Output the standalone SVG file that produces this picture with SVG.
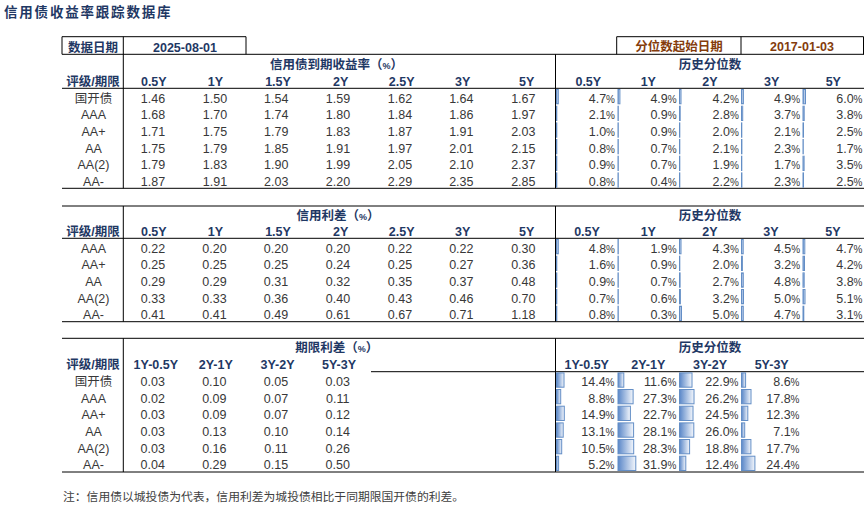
<svg xmlns="http://www.w3.org/2000/svg" width="864" height="506" viewBox="0 0 864 506">
<style>
text{font-family:"Liberation Sans","Noto Sans CJK SC",sans-serif;font-size:12.5px}
.ttl{font-weight:bold;fill:#1F3864;font-size:13.5px;letter-spacing:1.8px}
.h{font-weight:bold;fill:#1F3864;text-anchor:middle}
.v{fill:#383838;text-anchor:middle}
.p{fill:#383838;text-anchor:end}
.p tspan{font-size:10px}
.br{fill:#843C0C;text-anchor:middle;font-weight:bold}
.sm{font-size:9px}
.ln{stroke:#000;stroke-width:1;fill:none}
.bar{fill:url(#g);stroke:#638EC6;stroke-width:1}
.note{fill:#404040;font-size:11.8px}
</style>
<defs>
<linearGradient id="g" x1="0" y1="0" x2="1" y2="0">
<stop offset="0" stop-color="#5A87C8"/>
<stop offset="1" stop-color="#F4F7FC"/>
</linearGradient>
</defs>
<rect width="864" height="506" fill="#fff"/>
<text id="title" class="ttl" x="4" y="17">信用债收益率跟踪数据库</text>

<g id="connectors">
<path class="ln" d="M62 36.7H246M62 36.7V54.3M246 36.7V54.3M616.7 36.7H863.5M616.7 36.7V54.3M741 36.7V54.3M863.5 36.7V54.3"/>
<path class="ln" d="M62 54.3H864M62 88.3H864M62 188.3H864M123.3 36.7V188.3M555.5 54.3V188.3"/>
<path class="ln" d="M62 206H864M62 238.3H864M62 321.7H864M123.3 206V321.7M555.5 206V321.7"/>
<path class="ln" d="M62 338.3H864M371 371.7H864M62 472H864M123.3 338.3V472M555.5 338.3V472"/>
</g>

<g id="date-box">
<text class="h" x="93" y="51.8">数据日期</text>
<text class="h" x="185" y="51.8">2025-08-01</text>
<text class="br" x="679" y="51.2">分位数起始日期</text>
<text class="br" x="802" y="51.2">2017-01-03</text>
</g>

<g id="table1">
<text class="h" x="336.5" y="68.5">信用债到期收益率（<tspan class="sm">%</tspan>）</text>
<text class="h" x="710" y="68.5">历史分位数</text>
<text class="h" x="93" y="86">评级/期限</text>
<text class="h" x="153.8" y="86">0.5Y</text>
<text class="h" x="215.5" y="86">1Y</text>
<text class="h" x="278" y="86">1.5Y</text>
<text class="h" x="340.7" y="86">2Y</text>
<text class="h" x="401.7" y="86">2.5Y</text>
<text class="h" x="462.7" y="86">3Y</text>
<text class="h" x="526.7" y="86">5Y</text>
<text class="h" x="588.3" y="86">0.5Y</text>
<text class="h" x="648.3" y="86">1Y</text>
<text class="h" x="710" y="86">2Y</text>
<text class="h" x="771.7" y="86">3Y</text>
<text class="h" x="833.3" y="86">5Y</text>
<g class="v">
<text x="93.5" y="102.5">国开债</text><text x="93.5" y="119.2">AAA</text><text x="93.5" y="135.9">AA+</text><text x="93.5" y="152.5">AA</text><text x="93.5" y="169.2">AA(2)</text><text x="93.5" y="185.9">AA-</text>
<text x="153" y="102.5">1.46</text><text x="215" y="102.5">1.50</text><text x="276.2" y="102.5">1.54</text><text x="338" y="102.5">1.59</text><text x="400" y="102.5">1.62</text><text x="461.3" y="102.5">1.64</text><text x="523.3" y="102.5">1.67</text>
<text x="153" y="119.2">1.68</text><text x="215" y="119.2">1.70</text><text x="276.2" y="119.2">1.74</text><text x="338" y="119.2">1.80</text><text x="400" y="119.2">1.84</text><text x="461.3" y="119.2">1.86</text><text x="523.3" y="119.2">1.97</text>
<text x="153" y="135.9">1.71</text><text x="215" y="135.9">1.75</text><text x="276.2" y="135.9">1.79</text><text x="338" y="135.9">1.83</text><text x="400" y="135.9">1.87</text><text x="461.3" y="135.9">1.91</text><text x="523.3" y="135.9">2.03</text>
<text x="153" y="152.5">1.75</text><text x="215" y="152.5">1.79</text><text x="276.2" y="152.5">1.85</text><text x="338" y="152.5">1.91</text><text x="400" y="152.5">1.97</text><text x="461.3" y="152.5">2.01</text><text x="523.3" y="152.5">2.15</text>
<text x="153" y="169.2">1.79</text><text x="215" y="169.2">1.83</text><text x="276.2" y="169.2">1.90</text><text x="338" y="169.2">1.99</text><text x="400" y="169.2">2.05</text><text x="461.3" y="169.2">2.10</text><text x="523.3" y="169.2">2.37</text>
<text x="153" y="185.9">1.87</text><text x="215" y="185.9">1.91</text><text x="276.2" y="185.9">2.03</text><text x="338" y="185.9">2.20</text><text x="400" y="185.9">2.29</text><text x="461.3" y="185.9">2.35</text><text x="523.3" y="185.9">2.85</text>
</g>
<g id="t1bars">
<rect class="bar" x="556.5" y="89.5" width="1.8" height="14.3"/><rect class="bar" x="618" y="89.5" width="1.9" height="14.3"/><rect class="bar" x="679.5" y="89.5" width="1.5" height="14.3"/><rect class="bar" x="741.5" y="89.5" width="1.9" height="14.3"/><rect class="bar" x="803" y="89.5" width="2.5" height="14.3"/>
<rect class="bar" x="556.5" y="106.2" width="0.3" height="14.3"/><rect class="bar" x="618" y="106.2" width="0.3" height="14.3"/><rect class="bar" x="679.5" y="106.2" width="0.7" height="14.3"/><rect class="bar" x="741.5" y="106.2" width="1.2" height="14.3"/><rect class="bar" x="803" y="106.2" width="1.2" height="14.3"/>
<rect class="bar" x="556.5" y="122.9" width="0.3" height="14.3"/><rect class="bar" x="618" y="122.9" width="0.3" height="14.3"/><rect class="bar" x="679.5" y="122.9" width="0.3" height="14.3"/><rect class="bar" x="741.5" y="122.9" width="0.3" height="14.3"/><rect class="bar" x="803" y="122.9" width="0.5" height="14.3"/>
<rect class="bar" x="556.5" y="139.5" width="0.3" height="14.3"/><rect class="bar" x="618" y="139.5" width="0.3" height="14.3"/><rect class="bar" x="679.5" y="139.5" width="0.3" height="14.3"/><rect class="bar" x="741.5" y="139.5" width="0.4" height="14.3"/><rect class="bar" x="803" y="139.5" width="0.3" height="14.3"/>
<rect class="bar" x="556.5" y="156.2" width="0.3" height="14.3"/><rect class="bar" x="618" y="156.2" width="0.3" height="14.3"/><rect class="bar" x="679.5" y="156.2" width="0.3" height="14.3"/><rect class="bar" x="741.5" y="156.2" width="0.3" height="14.3"/><rect class="bar" x="803" y="156.2" width="1.1" height="14.3"/>
<rect class="bar" x="556.5" y="172.9" width="0.3" height="14.3"/><rect class="bar" x="618" y="172.9" width="0.3" height="14.3"/><rect class="bar" x="679.5" y="172.9" width="0.3" height="14.3"/><rect class="bar" x="741.5" y="172.9" width="0.4" height="14.3"/><rect class="bar" x="803" y="172.9" width="0.5" height="14.3"/>
</g>
<g>
<text class="p" x="615" y="102.5">4.7<tspan>%</tspan></text><text class="p" x="676.7" y="102.5">4.9<tspan>%</tspan></text><text class="p" x="738.8" y="102.5">4.2<tspan>%</tspan></text><text class="p" x="800.2" y="102.5">4.9<tspan>%</tspan></text><text class="p" x="862.5" y="102.5">6.0<tspan>%</tspan></text>
<text class="p" x="615" y="119.2">2.1<tspan>%</tspan></text><text class="p" x="676.7" y="119.2">0.9<tspan>%</tspan></text><text class="p" x="738.8" y="119.2">2.8<tspan>%</tspan></text><text class="p" x="800.2" y="119.2">3.7<tspan>%</tspan></text><text class="p" x="862.5" y="119.2">3.8<tspan>%</tspan></text>
<text class="p" x="615" y="135.9">1.0<tspan>%</tspan></text><text class="p" x="676.7" y="135.9">0.9<tspan>%</tspan></text><text class="p" x="738.8" y="135.9">2.0<tspan>%</tspan></text><text class="p" x="800.2" y="135.9">2.1<tspan>%</tspan></text><text class="p" x="862.5" y="135.9">2.5<tspan>%</tspan></text>
<text class="p" x="615" y="152.5">0.8<tspan>%</tspan></text><text class="p" x="676.7" y="152.5">0.7<tspan>%</tspan></text><text class="p" x="738.8" y="152.5">2.1<tspan>%</tspan></text><text class="p" x="800.2" y="152.5">2.3<tspan>%</tspan></text><text class="p" x="862.5" y="152.5">1.7<tspan>%</tspan></text>
<text class="p" x="615" y="169.2">0.9<tspan>%</tspan></text><text class="p" x="676.7" y="169.2">0.7<tspan>%</tspan></text><text class="p" x="738.8" y="169.2">1.9<tspan>%</tspan></text><text class="p" x="800.2" y="169.2">1.7<tspan>%</tspan></text><text class="p" x="862.5" y="169.2">3.5<tspan>%</tspan></text>
<text class="p" x="615" y="185.9">0.8<tspan>%</tspan></text><text class="p" x="676.7" y="185.9">0.4<tspan>%</tspan></text><text class="p" x="738.8" y="185.9">2.2<tspan>%</tspan></text><text class="p" x="800.2" y="185.9">2.3<tspan>%</tspan></text><text class="p" x="862.5" y="185.9">2.5<tspan>%</tspan></text>
</g>
</g>

<g id="table2">
<text class="h" x="338" y="219.5">信用利差（<tspan class="sm">%</tspan>）</text>
<text class="h" x="710" y="219.5">历史分位数</text>
<text class="h" x="93" y="236">评级/期限</text>
<text class="h" x="153.8" y="236">0.5Y</text>
<text class="h" x="215.5" y="236">1Y</text>
<text class="h" x="278" y="236">1.5Y</text>
<text class="h" x="340.7" y="236">2Y</text>
<text class="h" x="401.7" y="236">2.5Y</text>
<text class="h" x="462.7" y="236">3Y</text>
<text class="h" x="526.7" y="236">5Y</text>
<text class="h" x="587" y="236">0.5Y</text>
<text class="h" x="648.3" y="236">1Y</text>
<text class="h" x="710" y="236">2Y</text>
<text class="h" x="771" y="236">3Y</text>
<text class="h" x="833" y="236">5Y</text>
<g class="v">
<text x="93.5" y="252.5">AAA</text><text x="93.5" y="269.2">AA+</text><text x="93.5" y="285.9">AA</text><text x="93.5" y="302.5">AA(2)</text><text x="93.5" y="319.2">AA-</text>
<text x="153" y="252.5">0.22</text><text x="214.5" y="252.5">0.20</text><text x="276" y="252.5">0.20</text><text x="338" y="252.5">0.20</text><text x="400" y="252.5">0.22</text><text x="461.3" y="252.5">0.22</text><text x="523.3" y="252.5">0.30</text>
<text x="153" y="269.2">0.25</text><text x="214.5" y="269.2">0.25</text><text x="276" y="269.2">0.25</text><text x="338" y="269.2">0.24</text><text x="400" y="269.2">0.25</text><text x="461.3" y="269.2">0.27</text><text x="523.3" y="269.2">0.36</text>
<text x="153" y="285.9">0.29</text><text x="214.5" y="285.9">0.29</text><text x="276" y="285.9">0.31</text><text x="338" y="285.9">0.32</text><text x="400" y="285.9">0.35</text><text x="461.3" y="285.9">0.37</text><text x="523.3" y="285.9">0.48</text>
<text x="153" y="302.5">0.33</text><text x="214.5" y="302.5">0.33</text><text x="276" y="302.5">0.36</text><text x="338" y="302.5">0.40</text><text x="400" y="302.5">0.43</text><text x="461.3" y="302.5">0.46</text><text x="523.3" y="302.5">0.70</text>
<text x="153" y="319.2">0.41</text><text x="214.5" y="319.2">0.41</text><text x="276" y="319.2">0.49</text><text x="338" y="319.2">0.61</text><text x="400" y="319.2">0.67</text><text x="461.3" y="319.2">0.71</text><text x="523.3" y="319.2">1.18</text>
</g>
<g id="t2bars">
<rect class="bar" x="556.5" y="239.5" width="1.8" height="14.3"/><rect class="bar" x="618" y="239.5" width="0.3" height="14.3"/><rect class="bar" x="679.5" y="239.5" width="1.5" height="14.3"/><rect class="bar" x="741.5" y="239.5" width="1.7" height="14.3"/><rect class="bar" x="803" y="239.5" width="1.8" height="14.3"/>
<rect class="bar" x="556.5" y="256.2" width="0.3" height="14.3"/><rect class="bar" x="618" y="256.2" width="0.3" height="14.3"/><rect class="bar" x="679.5" y="256.2" width="0.3" height="14.3"/><rect class="bar" x="741.5" y="256.2" width="0.9" height="14.3"/><rect class="bar" x="803" y="256.2" width="1.5" height="14.3"/>
<rect class="bar" x="556.5" y="272.9" width="0.3" height="14.3"/><rect class="bar" x="618" y="272.9" width="0.3" height="14.3"/><rect class="bar" x="679.5" y="272.9" width="0.6" height="14.3"/><rect class="bar" x="741.5" y="272.9" width="1.8" height="14.3"/><rect class="bar" x="803" y="272.9" width="1.2" height="14.3"/>
<rect class="bar" x="556.5" y="289.5" width="0.3" height="14.3"/><rect class="bar" x="618" y="289.5" width="0.3" height="14.3"/><rect class="bar" x="679.5" y="289.5" width="0.9" height="14.3"/><rect class="bar" x="741.5" y="289.5" width="2" height="14.3"/><rect class="bar" x="803" y="289.5" width="2" height="14.3"/>
<rect class="bar" x="556.5" y="306.2" width="0.3" height="14.3"/><rect class="bar" x="618" y="306.2" width="0.3" height="14.3"/><rect class="bar" x="679.5" y="306.2" width="2" height="14.3"/><rect class="bar" x="741.5" y="306.2" width="1.8" height="14.3"/><rect class="bar" x="803" y="306.2" width="0.8" height="14.3"/>
</g>
<g>
<text class="p" x="615" y="252.5">4.8<tspan>%</tspan></text><text class="p" x="676.7" y="252.5">1.9<tspan>%</tspan></text><text class="p" x="738.8" y="252.5">4.3<tspan>%</tspan></text><text class="p" x="800.2" y="252.5">4.5<tspan>%</tspan></text><text class="p" x="862.5" y="252.5">4.7<tspan>%</tspan></text>
<text class="p" x="615" y="269.2">1.6<tspan>%</tspan></text><text class="p" x="676.7" y="269.2">0.9<tspan>%</tspan></text><text class="p" x="738.8" y="269.2">2.0<tspan>%</tspan></text><text class="p" x="800.2" y="269.2">3.2<tspan>%</tspan></text><text class="p" x="862.5" y="269.2">4.2<tspan>%</tspan></text>
<text class="p" x="615" y="285.9">0.9<tspan>%</tspan></text><text class="p" x="676.7" y="285.9">0.7<tspan>%</tspan></text><text class="p" x="738.8" y="285.9">2.7<tspan>%</tspan></text><text class="p" x="800.2" y="285.9">4.8<tspan>%</tspan></text><text class="p" x="862.5" y="285.9">3.8<tspan>%</tspan></text>
<text class="p" x="615" y="302.5">0.7<tspan>%</tspan></text><text class="p" x="676.7" y="302.5">0.6<tspan>%</tspan></text><text class="p" x="738.8" y="302.5">3.2<tspan>%</tspan></text><text class="p" x="800.2" y="302.5">5.0<tspan>%</tspan></text><text class="p" x="862.5" y="302.5">5.1<tspan>%</tspan></text>
<text class="p" x="615" y="319.2">0.8<tspan>%</tspan></text><text class="p" x="676.7" y="319.2">0.3<tspan>%</tspan></text><text class="p" x="738.8" y="319.2">5.0<tspan>%</tspan></text><text class="p" x="800.2" y="319.2">4.7<tspan>%</tspan></text><text class="p" x="862.5" y="319.2">3.1<tspan>%</tspan></text>
</g>
</g>

<g id="table3">
<text class="h" x="336.7" y="351.5">期限利差（<tspan class="sm">%</tspan>）</text>
<text class="h" x="710" y="352">历史分位数</text>
<text class="h" x="93" y="368.5">评级/期限</text>
<text class="h" x="155.8" y="368.5">1Y-0.5Y</text>
<text class="h" x="215.8" y="368.5">2Y-1Y</text>
<text class="h" x="277.5" y="368.5">3Y-2Y</text>
<text class="h" x="339" y="368.5">5Y-3Y</text>
<text class="h" x="586.7" y="368.5">1Y-0.5Y</text>
<text class="h" x="648.3" y="368.5">2Y-1Y</text>
<text class="h" x="710" y="368.5">3Y-2Y</text>
<text class="h" x="771.7" y="368.5">5Y-3Y</text>
<g class="v">
<text x="93.5" y="385.9">国开债</text><text x="93.5" y="402.5">AAA</text><text x="93.5" y="419.2">AA+</text><text x="93.5" y="435.9">AA</text><text x="93.5" y="452.5">AA(2)</text><text x="93.5" y="469.2">AA-</text>
<text x="152.7" y="385.9">0.03</text><text x="214.3" y="385.9">0.10</text><text x="276" y="385.9">0.05</text><text x="337.7" y="385.9">0.03</text>
<text x="152.7" y="402.5">0.02</text><text x="214.3" y="402.5">0.09</text><text x="276" y="402.5">0.07</text><text x="337.7" y="402.5">0.11</text>
<text x="152.7" y="419.2">0.03</text><text x="214.3" y="419.2">0.09</text><text x="276" y="419.2">0.07</text><text x="337.7" y="419.2">0.12</text>
<text x="152.7" y="435.9">0.03</text><text x="214.3" y="435.9">0.13</text><text x="276" y="435.9">0.10</text><text x="337.7" y="435.9">0.14</text>
<text x="152.7" y="452.5">0.03</text><text x="214.3" y="452.5">0.16</text><text x="276" y="452.5">0.11</text><text x="337.7" y="452.5">0.26</text>
<text x="152.7" y="469.2">0.04</text><text x="214.3" y="469.2">0.29</text><text x="276" y="469.2">0.15</text><text x="337.7" y="469.2">0.50</text>
</g>
<g id="t3bars">
<rect class="bar" x="556.5" y="372.9" width="7.5" height="14.3"/><rect class="bar" x="618" y="372.9" width="5.8" height="14.3"/><rect class="bar" x="679.5" y="372.9" width="12.5" height="14.3"/><rect class="bar" x="741.5" y="372.9" width="4.1" height="14.3"/>
<rect class="bar" x="556.5" y="389.5" width="4.2" height="14.3"/><rect class="bar" x="618" y="389.5" width="15.1" height="14.3"/><rect class="bar" x="679.5" y="389.5" width="14.5" height="14.3"/><rect class="bar" x="741.5" y="389.5" width="9.5" height="14.3"/>
<rect class="bar" x="556.5" y="406.2" width="7.8" height="14.3"/><rect class="bar" x="618" y="406.2" width="12.4" height="14.3"/><rect class="bar" x="679.5" y="406.2" width="13.5" height="14.3"/><rect class="bar" x="741.5" y="406.2" width="6.3" height="14.3"/>
<rect class="bar" x="556.5" y="422.9" width="6.7" height="14.3"/><rect class="bar" x="618" y="422.9" width="15.6" height="14.3"/><rect class="bar" x="679.5" y="422.9" width="14.3" height="14.3"/><rect class="bar" x="741.5" y="422.9" width="3.2" height="14.3"/>
<rect class="bar" x="556.5" y="439.5" width="5.2" height="14.3"/><rect class="bar" x="618" y="439.5" width="15.7" height="14.3"/><rect class="bar" x="679.5" y="439.5" width="10.1" height="14.3"/><rect class="bar" x="741.5" y="439.5" width="9.4" height="14.3"/>
<rect class="bar" x="556.5" y="456.2" width="2.1" height="14.3"/><rect class="bar" x="618" y="456.2" width="17.8" height="14.3"/><rect class="bar" x="679.5" y="456.2" width="6.3" height="14.3"/><rect class="bar" x="741.5" y="456.2" width="13.4" height="14.3"/>
</g>
<g>
<text class="p" x="614.5" y="385.9">14.4<tspan>%</tspan></text><text class="p" x="676.3" y="385.9">11.6<tspan>%</tspan></text><text class="p" x="738.5" y="385.9">22.9<tspan>%</tspan></text><text class="p" x="799.5" y="385.9">8.6<tspan>%</tspan></text>
<text class="p" x="614.5" y="402.5">8.8<tspan>%</tspan></text><text class="p" x="676.3" y="402.5">27.3<tspan>%</tspan></text><text class="p" x="738.5" y="402.5">26.2<tspan>%</tspan></text><text class="p" x="799.5" y="402.5">17.8<tspan>%</tspan></text>
<text class="p" x="614.5" y="419.2">14.9<tspan>%</tspan></text><text class="p" x="676.3" y="419.2">22.7<tspan>%</tspan></text><text class="p" x="738.5" y="419.2">24.5<tspan>%</tspan></text><text class="p" x="799.5" y="419.2">12.3<tspan>%</tspan></text>
<text class="p" x="614.5" y="435.9">13.1<tspan>%</tspan></text><text class="p" x="676.3" y="435.9">28.1<tspan>%</tspan></text><text class="p" x="738.5" y="435.9">26.0<tspan>%</tspan></text><text class="p" x="799.5" y="435.9">7.1<tspan>%</tspan></text>
<text class="p" x="614.5" y="452.5">10.5<tspan>%</tspan></text><text class="p" x="676.3" y="452.5">28.3<tspan>%</tspan></text><text class="p" x="738.5" y="452.5">18.8<tspan>%</tspan></text><text class="p" x="799.5" y="452.5">17.7<tspan>%</tspan></text>
<text class="p" x="614.5" y="469.2">5.2<tspan>%</tspan></text><text class="p" x="676.3" y="469.2">31.9<tspan>%</tspan></text><text class="p" x="738.5" y="469.2">12.4<tspan>%</tspan></text><text class="p" x="799.5" y="469.2">24.4<tspan>%</tspan></text>
</g>
</g>

<text id="note" class="note" x="63" y="501">注：信用债以城投债为代表，信用利差为城投债相比于同期限国开债的利差。</text>
</svg>
